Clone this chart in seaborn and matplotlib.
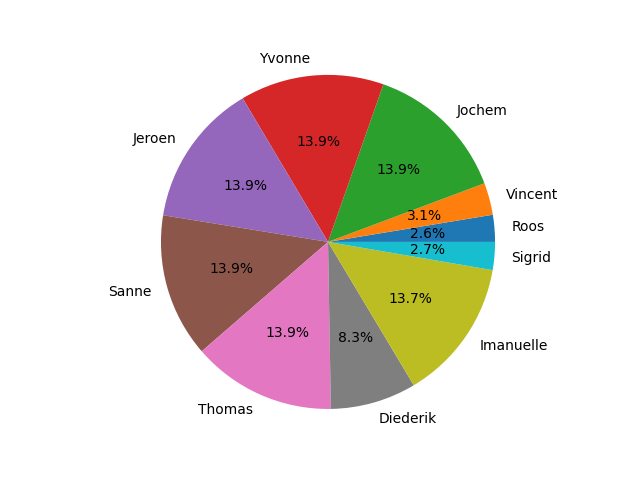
import matplotlib
matplotlib.use("Agg")
from matplotlib import pyplot as plt
import seaborn as sns

names = ['Roos', 'Vincent', 'Jochem', 'Yvonne', 'Jeroen', 'Sanne',
         'Thomas', 'Diederik', 'Imanuelle', 'Sigrid']
shares = [2.6, 3.1, 13.9, 13.9, 13.9, 13.9, 13.9, 8.3, 13.7, 2.7]

colors = sns.color_palette("tab10", 10)
fig, ax = plt.subplots(figsize=(6.4, 4.8), dpi=100)
ax.pie(shares, labels=names, colors=colors, autopct='%1.1f%%')
ax.set_position([0.125, 0.061, 0.775, 0.87])
plt.savefig("out.png")
